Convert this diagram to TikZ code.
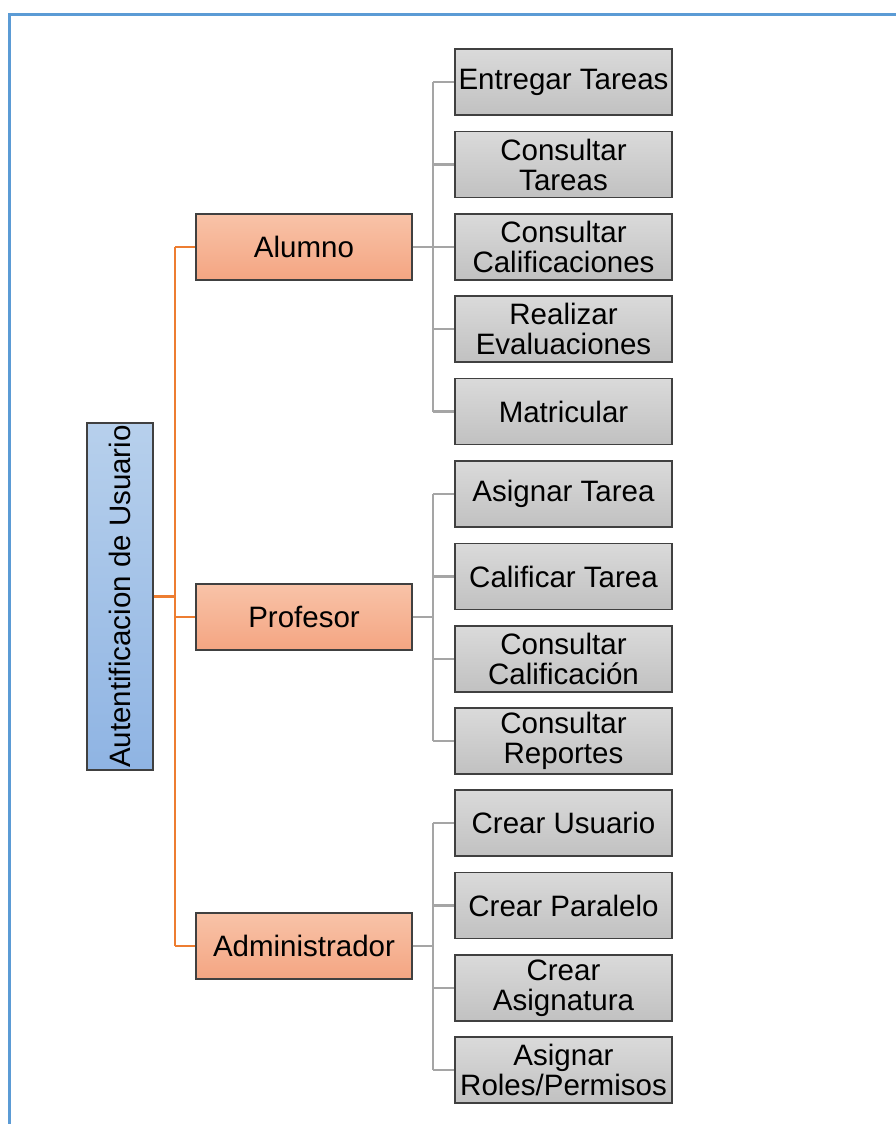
\documentclass[tikz,border=0pt]{standalone}
\usepackage{fontspec}
\setmainfont{Liberation Sans}
\definecolor{frameblue}{HTML}{5B9BD5}
\definecolor{rootTop}{HTML}{B7D0EC}
\definecolor{rootBot}{HTML}{8FB4E3}
\definecolor{roleTop}{HTML}{F8C3A8}
\definecolor{roleBot}{HTML}{F4A582}
\definecolor{taskTop}{HTML}{DADADA}
\definecolor{taskBot}{HTML}{C1C1C1}
\definecolor{edgeline}{HTML}{404040}
\definecolor{orangeline}{HTML}{ED7D31}
\definecolor{grayline}{HTML}{A5A5A5}
\begin{document}
\begin{tikzpicture}[x=1pt,y=-1pt,
  every node/.style={font=\fontsize{29.5}{30}\selectfont, inner sep=0pt, align=center},
  rootbox/.style={draw=edgeline, line width=1.2pt, top color=rootTop, bottom color=rootBot,
    minimum width=66pt, minimum height=347pt},
  rolebox/.style={draw=edgeline, line width=1.2pt, top color=roleTop, bottom color=roleBot,
    minimum width=216pt, minimum height=66pt},
  taskbox/.style={draw=edgeline, line width=1.2pt, top color=taskTop, bottom color=taskBot,
    minimum width=217pt, minimum height=66pt},
  orangeedge/.style={draw=orangeline, line width=2.8pt},
  grayedge/.style={draw=grayline, line width=2.8pt}
]
\useasboundingbox (0,0) rectangle (896,1124);
% page frame
\draw[frameblue, line width=3pt] (9,1124) -- (9,15) -- (896,15);

% root
\node[rootbox] (root) at (120,596.5) {\rotatebox{90}{Autentificacion de Usuario}};

% roles
\node[rolebox] (alumno) at (304,247) {Alumno};
\node[rolebox] (profesor) at (304,617) {Profesor};
\node[rolebox] (admin) at (304,946) {Administrador};

% tasks
\node[taskbox] (t1) at (563.5,82) {Entregar Tareas};
\node[taskbox] (t2) at (563.5,164.5) {Consultar\\Tareas};
\node[taskbox] (t3) at (563.5,247) {Consultar\\Calificaciones};
\node[taskbox] (t4) at (563.5,329) {Realizar\\Evaluaciones};
\node[taskbox] (t5) at (563.5,411.5) {Matricular};
\node[taskbox] (t6) at (563.5,494) {Asignar Tarea};
\node[taskbox] (t7) at (563.5,576.5) {Calificar Tarea};
\node[taskbox] (t8) at (563.5,659) {Consultar\\Calificación};
\node[taskbox] (t9) at (563.5,741) {Consultar\\Reportes};
\node[taskbox] (t10) at (563.5,823) {Crear Usuario};
\node[taskbox] (t11) at (563.5,905.5) {Crear Paralelo};
\node[taskbox] (t12) at (563.5,988) {Crear\\Asignatura};
\node[taskbox] (t13) at (563.5,1070) {Asignar\\Roles/Permisos};

% root to roles
\coordinate (bus) at (175,0);
\draw[orangeedge] (root.east) -- (root.east -| bus);
\draw[orangeedge] (alumno.west -| bus) -- (admin.west -| bus);
\foreach \r in {alumno,profesor,admin}
  \draw[orangeedge] (\r.west -| bus) -- (\r.west);

% roles to tasks
\coordinate (tbus) at (433,0);
\foreach \r/\first/\last/\list in {alumno/t1/t5/{t1,t2,t3,t4,t5}, profesor/t6/t9/{t6,t7,t8,t9}, admin/t10/t13/{t10,t11,t12,t13}}{
  \draw[grayedge] (\r.east) -- (\r.east -| tbus);
  \draw[grayedge] (\first.west -| tbus) -- (\last.west -| tbus);
  \foreach \t in \list
    \draw[grayedge] (\t.west -| tbus) -- (\t.west);
}
\end{tikzpicture}
\end{document}
